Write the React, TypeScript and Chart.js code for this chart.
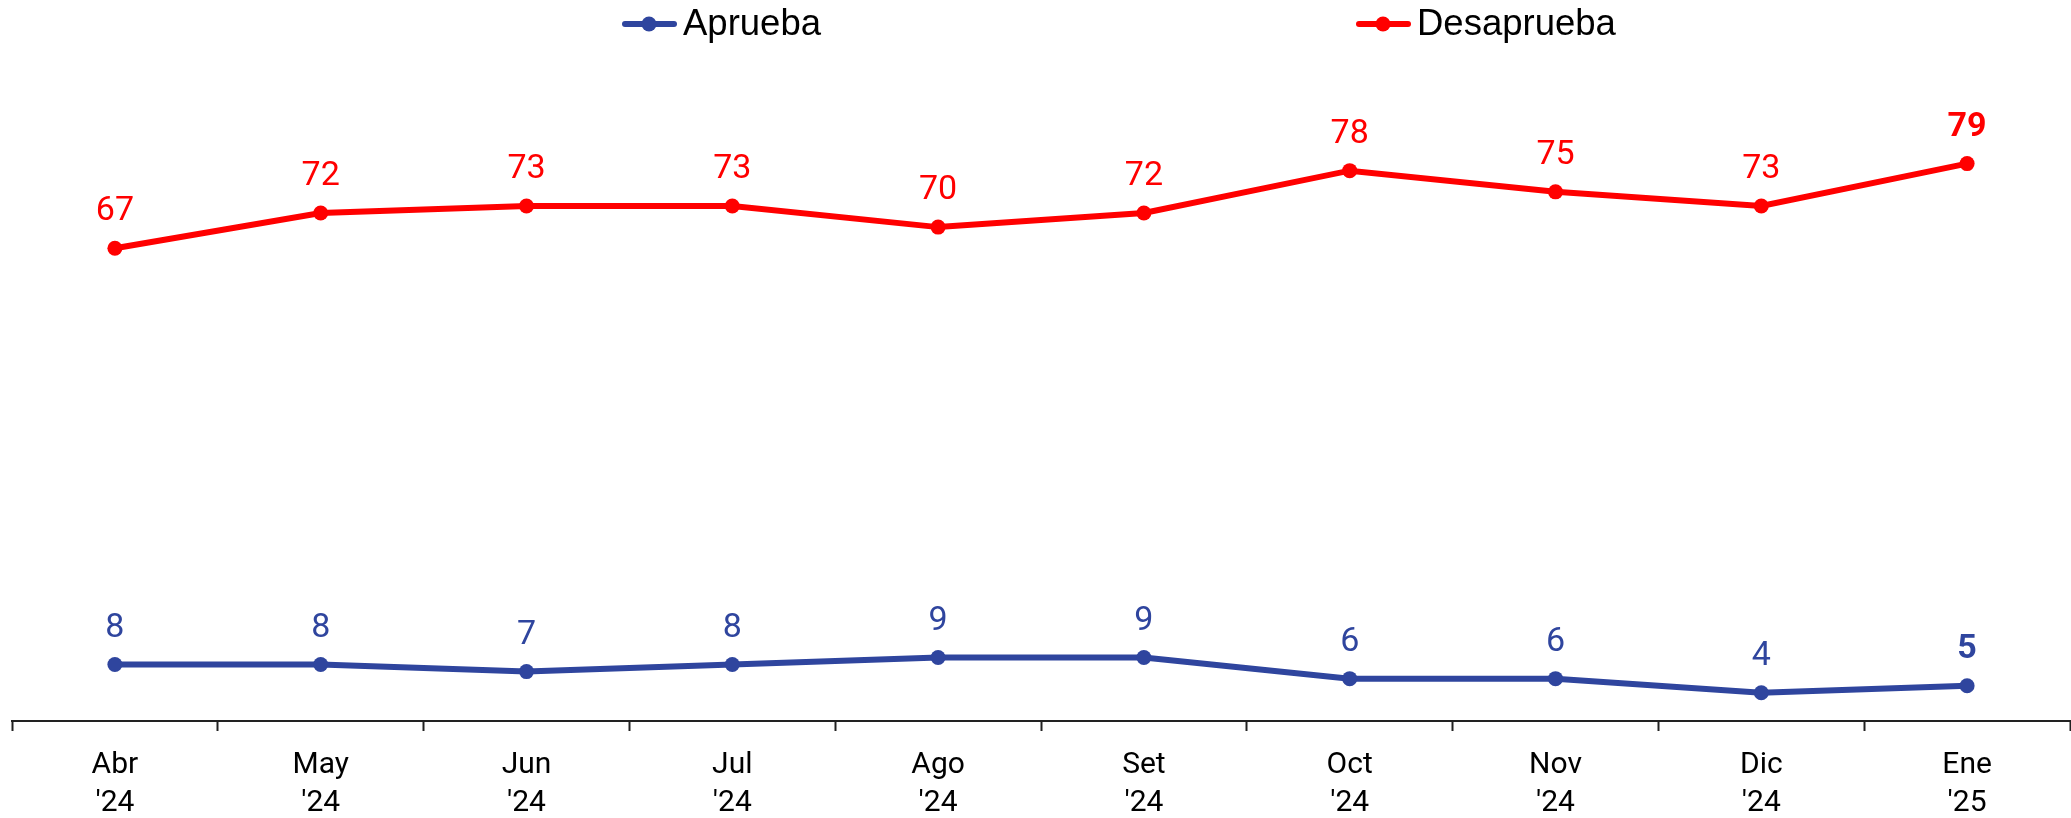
import React, { useEffect, useRef } from "react";
import { Chart, registerables } from "chart.js";

Chart.register(...registerables);

const months = ["Abr", "May", "Jun", "Jul", "Ago", "Set", "Oct", "Nov", "Dic", "Ene"];
const years = ["'24", "'24", "'24", "'24", "'24", "'24", "'24", "'24", "'24", "'25"];
const aprueba = [8, 8, 7, 8, 9, 9, 6, 6, 4, 5];
const desaprueba = [67, 72, 73, 73, 70, 72, 78, 75, 73, 79];
const seriesNames = ["Aprueba", "Desaprueba"];
const seriesColors = ["#2F459E", "#FF0000"];
const legendX = [622, 1356];

const valueLabels = {
  id: "valueLabels",
  afterDatasetsDraw(chart: any) {
    const ctx = chart.ctx;
    chart.data.datasets.forEach((ds: any, di: number) => {
      const meta = chart.getDatasetMeta(di);
      meta.data.forEach((pt: any, i: number) => {
        const last = i === meta.data.length - 1;
        ctx.save();
        ctx.font = `${last ? "700" : "400"} 34px Roboto`;
        ctx.fillStyle = ds.borderColor;
        ctx.textAlign = "center";
        ctx.textBaseline = "middle";
        ctx.fillText(String(ds.data[i]), pt.x, pt.y - 36.5);
        ctx.restore();
      });
    });
  },
};

const customLegend = {
  id: "customLegend",
  afterDraw(chart: any) {
    const ctx = chart.ctx;
    chart.data.datasets.forEach((ds: any, di: number) => {
      const x0 = legendX[di];
      const y = 24;
      ctx.save();
      ctx.strokeStyle = ds.borderColor;
      ctx.fillStyle = ds.borderColor;
      ctx.lineWidth = 6;
      ctx.lineCap = "round";
      ctx.beginPath();
      ctx.moveTo(x0 + 3, y);
      ctx.lineTo(x0 + 52, y);
      ctx.stroke();
      ctx.beginPath();
      ctx.arc(x0 + 27, y, 7.5, 0, Math.PI * 2);
      ctx.fill();
      ctx.fillStyle = "#000";
      ctx.font = "36.5px 'Liberation Sans', Arial, sans-serif";
      ctx.textAlign = "left";
      ctx.textBaseline = "middle";
      ctx.fillText(ds.label, x0 + 61, y + 1);
      ctx.restore();
    });
  },
};

export default function App() {
  const ref = useRef<HTMLCanvasElement | null>(null);

  useEffect(() => {
    document.body.style.margin = "0";
    if (!ref.current) return;
    const chart = new Chart(ref.current, {
      type: "line",
      data: {
        labels: months.map((m, i) => [m, years[i]]),
        datasets: [
          {
            label: seriesNames[0],
            data: aprueba,
            borderColor: seriesColors[0],
            backgroundColor: seriesColors[0],
            borderWidth: 6,
            pointRadius: 7.5,
            pointHoverRadius: 7.5,
            pointBackgroundColor: seriesColors[0],
            pointBorderWidth: 0,
            tension: 0,
          },
          {
            label: seriesNames[1],
            data: desaprueba,
            borderColor: seriesColors[1],
            backgroundColor: seriesColors[1],
            borderWidth: 6,
            pointRadius: 7.5,
            pointHoverRadius: 7.5,
            pointBackgroundColor: seriesColors[1],
            pointBorderWidth: 0,
            tension: 0,
          },
        ],
      },
      options: {
        responsive: false,
        animation: false,
        devicePixelRatio: 1,
        layout: { autoPadding: false, padding: { left: 12, right: 1, top: 86, bottom: 0 } },
        plugins: {
          legend: { display: false },
          tooltip: { enabled: false },
        },
        scales: {
          x: {
            offset: true,
            afterFit(scale: any) {
              scale.height = 97;
              scale.paddingLeft = 0;
              scale.paddingRight = 0;
            },
            border: { display: true, color: "#222", width: 2 },
            grid: {
              offset: true,
              drawOnChartArea: false,
              drawTicks: true,
              tickLength: 10,
              tickWidth: 2,
              tickColor: "#222",
            },
            ticks: {
              color: "#000",
              padding: 16,
              maxRotation: 0,
              autoSkip: false,
              font: { family: "Roboto", size: 30, lineHeight: 1.25 },
            },
          },
          y: {
            display: false,
            min: 0,
            max: 90,
          },
        },
      },
      plugins: [valueLabels, customLegend],
    });
    return () => chart.destroy();
  }, []);

  return (
    <div style={{ width: 2071, height: 818 }}>
      <canvas ref={ref} width={2071} height={818} style={{ display: "block" }} />
    </div>
  );
}
